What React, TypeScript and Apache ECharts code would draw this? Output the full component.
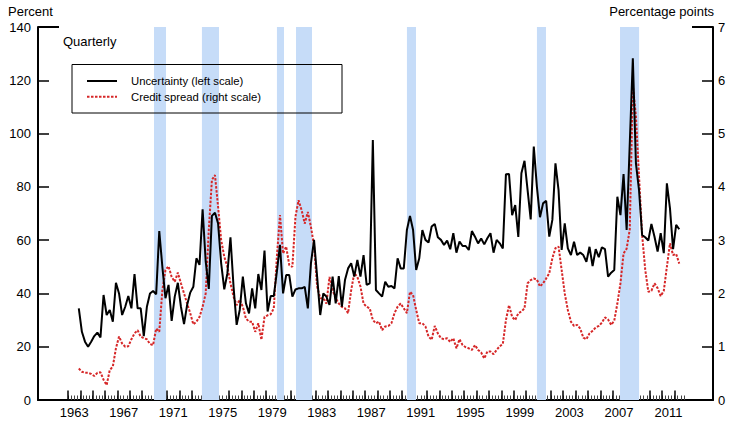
import React, { useEffect, useRef } from "react";
import * as echarts from "echarts";

// Quarterly observations, first point at 1963.875, step 0.25 year
const START_YEAR = 1963.875;
const STEP = 0.25;

const uncertainty = [
  34.4, 25.6, 21.9, 20.0, 21.9, 24.0, 25.3, 23.5, 39.4, 31.9,
  33.8, 29.4, 44.0, 40.0, 31.9, 35.0, 39.0, 34.4, 47.3, 34.4,
  34.4, 24.0, 35.0, 40.0, 40.9, 39.7, 63.4, 50.0, 38.2, 43.2,
  29.7, 38.8, 44.0, 35.0, 28.5, 35.7, 40.3, 42.5, 53.2, 50.7,
  71.6, 52.0, 41.7, 69.1, 70.3, 66.3, 51.3, 41.5, 47.5, 61.1,
  42.5, 28.2, 33.8, 46.3, 36.3, 32.5, 41.9, 34.4, 47.3, 41.3,
  56.1, 33.2, 39.0, 39.0, 48.2, 58.2, 40.0, 46.9, 46.9, 38.8,
  41.5, 41.9, 41.9, 42.5, 34.4, 51.3, 60.1, 46.3, 31.9, 40.0,
  38.8, 35.7, 46.3, 36.3, 46.5, 35.0, 45.0, 49.4, 51.3, 46.3,
  52.6, 46.3, 54.4, 43.2, 43.8, 97.6, 41.3, 40.0, 38.8, 44.4,
  42.5, 42.8, 41.9, 53.2, 49.4, 49.4, 63.8, 69.1, 63.8, 48.8,
  53.2, 63.8, 60.1, 59.1, 65.1, 66.1, 61.1, 60.1, 58.2, 59.8,
  56.6, 62.6, 55.3, 59.5, 57.8, 57.8, 56.3, 63.4, 61.3, 58.8,
  60.6, 58.4, 60.7, 62.6, 55.3, 60.1, 58.8, 56.9, 84.7, 84.8,
  69.4, 73.2, 61.2, 85.1, 89.8, 78.8, 67.8, 95.1, 80.1, 68.6,
  73.8, 74.8, 61.3, 67.6, 88.8, 78.8, 56.3, 66.3, 56.9, 54.4,
  59.4, 54.4, 55.3, 54.4, 51.9, 57.5, 50.3, 56.6, 53.6, 57.3,
  56.6, 46.3, 47.8, 48.8, 76.3, 69.4, 84.8, 63.8, 96.0, 128.3,
  88.8, 78.8, 61.9, 61.1, 59.8, 66.1, 61.3, 55.7, 62.6, 55.1,
  81.3, 71.9, 56.6, 65.7, 64.1,
];

const creditSpread = [
  0.59, 0.53, 0.51, 0.51, 0.49, 0.45, 0.51, 0.52, 0.38, 0.28,
  0.56, 0.63, 0.97, 1.19, 1.06, 1.0, 1.01, 1.14, 1.25, 1.31,
  1.19, 1.16, 1.14, 1.05, 1.03, 1.34, 1.28, 2.06, 2.44, 2.51,
  2.31, 2.22, 2.39, 2.19, 2.0, 1.81, 1.63, 1.42, 1.47, 1.56,
  1.75, 2.0, 3.19, 4.13, 4.22, 3.63, 3.0, 2.69, 2.5, 2.19,
  1.94, 1.78, 1.88, 1.75, 1.53, 1.47, 1.47, 1.28, 1.44, 1.13,
  1.56, 1.59, 1.61, 1.72, 2.69, 3.47, 2.75, 2.88, 2.53, 2.5,
  3.44, 3.75, 3.56, 3.31, 3.53, 3.25, 2.9, 2.13, 1.91, 1.91,
  1.81, 2.31, 2.06, 1.91, 1.81, 1.75, 1.72, 1.63, 2.06, 2.38,
  2.31, 2.13, 1.81, 1.75, 1.72, 1.5, 1.44, 1.47, 1.31, 1.38,
  1.39, 1.44, 1.63, 1.75, 1.81, 1.72, 1.63, 2.03, 1.97, 1.69,
  1.44, 1.44, 1.38, 1.19, 1.13, 1.39, 1.25, 1.16, 1.14, 1.16,
  1.09, 1.16, 0.97, 1.14, 1.03, 0.99, 0.97, 0.94, 1.03, 0.94,
  0.89, 0.78, 0.91, 0.91, 0.86, 0.94, 1.01, 1.05, 1.5, 1.78,
  1.56, 1.5, 1.63, 1.66, 1.72, 2.19, 2.25, 2.28, 2.26, 2.13,
  2.19, 2.28, 2.38, 2.66, 2.85, 2.88, 2.44, 2.0, 1.69, 1.47,
  1.39, 1.41, 1.34, 1.17, 1.14, 1.25, 1.3, 1.36, 1.39, 1.45,
  1.55, 1.51, 1.41, 1.49, 1.81, 2.19, 2.75, 2.84, 3.2, 5.91,
  5.32, 4.2, 3.1, 2.45, 2.03, 2.05, 2.19, 2.1, 1.95, 2.05,
  2.5, 2.94, 2.72, 2.74, 2.56,
];

// Recession periods (fractional years)
const recessions: [number, number][] = [
  [1969.95, 1970.92],
  [1973.82, 1975.2],
  [1979.88, 1980.45],
  [1981.42, 1982.71],
  [1990.38, 1991.11],
  [2000.88, 2001.61],
  [2007.59, 2009.13],
];

const yearLabels = [1963, 1967, 1971, 1975, 1979, 1983, 1987, 1991, 1995, 1999, 2003, 2007, 2011];
const leftTicks = [0, 20, 40, 60, 80, 100, 120, 140];
const rightTicks = [0, 1, 2, 3, 4, 5, 6, 7];
const FIRST_TICK_YEAR = 1963;
const LAST_TICK_YEAR = 2012;

const SERIES_NAMES = ["Uncertainty (left scale)", "Credit spread (right scale)"];
const BLACK = "#000000";
const RED = "#d62728";
const RECESSION = "#c6dcf8";

const FONT = '"Liberation Sans", Arial, Helvetica, sans-serif';

export default function App() {
  const ref = useRef<HTMLDivElement>(null);

  useEffect(() => {
    if (!ref.current) return;
    const chart = echarts.init(ref.current, undefined, { renderer: "svg" });

    const blackData = uncertainty.map((v, i) => [START_YEAR + i * STEP, v]);
    const redData = creditSpread.map((v, i) => [START_YEAR + i * STEP, v]);

    const quarterTicks: number[] = [];
    for (let y = FIRST_TICK_YEAR; y <= LAST_TICK_YEAR; y++) {
      for (let q = 0; q < 4; q++) quarterTicks.push(y + q * 0.25);
    }
    const yearTicks: number[] = [];
    for (let y = FIRST_TICK_YEAR; y <= LAST_TICK_YEAR; y++) yearTicks.push(y);

    const xMin = 1960.58;
    const xMax = 2015.1;

    chart.setOption({
      animation: false,
      backgroundColor: "#ffffff",
      textStyle: { fontFamily: FONT },
      grid: { left: 38, right: 18, top: 27, bottom: 24, containLabel: false },
      graphic: [
        { type: "rect", shape: { x: 72, y: 64.5, width: 270, height: 48.5 }, style: { fill: "none", stroke: "#000", lineWidth: 1 }, z: 10 },
        { type: "line", shape: { x1: 87, y1: 81, x2: 117, y2: 81 }, style: { stroke: BLACK, lineWidth: 2 }, z: 10 },
        { type: "line", shape: { x1: 87, y1: 96.7, x2: 117, y2: 96.7 }, style: { stroke: RED, lineWidth: 2, lineDash: [2.5, 1.5] }, z: 10 },
        { type: "text", x: 131, y: 81, style: { text: SERIES_NAMES[0], font: `11.3px ${FONT}`, fill: "#000", verticalAlign: "middle" }, z: 10 },
        { type: "text", x: 131, y: 96.7, style: { text: SERIES_NAMES[1], font: `11.3px ${FONT}`, fill: "#000", verticalAlign: "middle" }, z: 10 },
        { type: "text", left: 8, top: 5, style: { text: "Percent", font: `13px ${FONT}`, fill: "#000" } },
        { type: "text", right: 17, top: 5, style: { text: "Percentage points", font: `13px ${FONT}`, fill: "#000" } },
        { type: "text", left: 63, top: 35, style: { text: "Quarterly", font: `13px ${FONT}`, fill: "#000" } },
        { type: "line", shape: { x1: 38, y1: 27, x2: 59, y2: 27 }, style: { stroke: "#000", lineWidth: 2 } },
        { type: "line", shape: { x1: 692, y1: 27, x2: 713, y2: 27 }, style: { stroke: "#000", lineWidth: 2 } },
      ],
      xAxis: [
        {
          type: "value",
          min: xMin,
          max: xMax,
          position: "bottom",
          axisLine: { show: true, lineStyle: { color: "#000", width: 2 } },
          axisTick: { show: true, inside: true, length: 4.5, customValues: quarterTicks, lineStyle: { color: "#444", width: 1 } },
          axisLabel: {
            show: true,
            customValues: yearLabels.map((y) => y + 0.5),
            formatter: (v: number) => String(Math.floor(v)),
            color: "#000",
            fontSize: 13,
            fontFamily: FONT,
            margin: 6,
          },
          splitLine: { show: false },
        },
        {
          type: "value",
          min: xMin,
          max: xMax,
          position: "bottom",
          axisLine: { show: false },
          axisTick: { show: true, inside: true, length: 9.5, customValues: yearTicks, lineStyle: { color: "#000", width: 1.5 } },
          axisLabel: { show: false },
          splitLine: { show: false },
        },
      ],
      yAxis: [
        {
          type: "value",
          min: 0,
          max: 140,
          interval: 20,
          position: "left",
          axisLine: { show: true, lineStyle: { color: "#000", width: 2 } },
          axisTick: { show: true, inside: true, length: 11, customValues: leftTicks, lineStyle: { color: "#000", width: 1.5 } },
          axisLabel: { color: "#000", fontSize: 13, fontFamily: FONT, margin: 7, customValues: leftTicks },
          splitLine: { show: false },
        },
        {
          type: "value",
          min: 0,
          max: 7,
          interval: 1,
          position: "right",
          axisLine: { show: true, lineStyle: { color: "#000", width: 2 } },
          axisTick: { show: true, inside: true, length: 11, customValues: rightTicks, lineStyle: { color: "#000", width: 1.5 } },
          axisLabel: { color: "#000", fontSize: 13, fontFamily: FONT, margin: 5, customValues: rightTicks },
          splitLine: { show: false },
        },
      ],
      series: [
        {
          name: "recessions",
          type: "line",
          data: [],
          xAxisIndex: 0,
          yAxisIndex: 0,
          z: 0,
          silent: true,
          markArea: {
            silent: true,
            itemStyle: { color: RECESSION },
            data: recessions.map(([a, b]) => [{ xAxis: a }, { xAxis: b }]),
          },
        },
        {
          name: SERIES_NAMES[1],
          type: "line",
          data: redData,
          xAxisIndex: 0,
          yAxisIndex: 1,
          symbol: "none",
          z: 3,
          lineStyle: { color: RED, width: 2, type: [2.5, 1.5], cap: "butt" },
          itemStyle: { color: RED },
        },
        {
          name: SERIES_NAMES[0],
          type: "line",
          data: blackData,
          xAxisIndex: 0,
          yAxisIndex: 0,
          symbol: "none",
          z: 4,
          lineStyle: { color: BLACK, width: 2 },
          itemStyle: { color: BLACK },
        },
      ],
    });

    return () => chart.dispose();
  }, []);

  return <div ref={ref} style={{ width: 731, height: 424, position: "absolute", left: 0, top: 0 }} />;
}
